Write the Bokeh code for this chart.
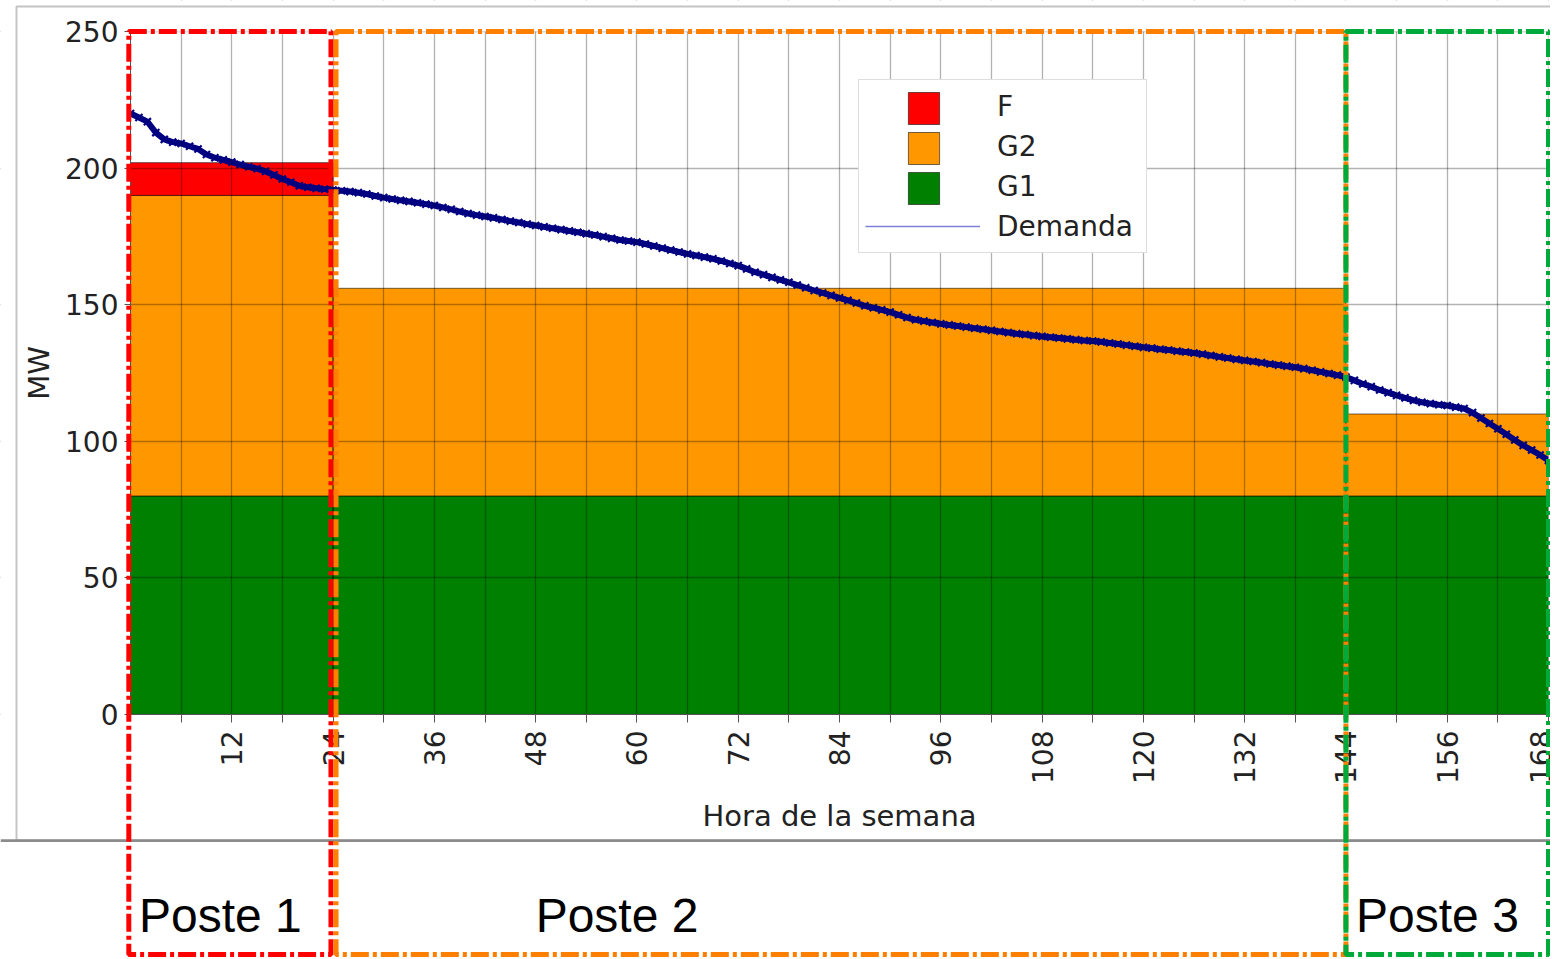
import math
import numpy as np
from bokeh.plotting import figure
from bokeh.models import Range1d, FixedTicker, BoxAnnotation, Label, Legend, LegendItem
from bokeh.embed import file_html
from bokeh.resources import INLINE

# ---------------- data ----------------
hora = list(range(169))
demanda = [
    220.0, 218.5, 217.0, 213.0, 210.5, 209.5, 209.0, 208.0, 207.0, 205.0,
    203.8, 203.0, 202.2, 201.3, 200.5, 199.8, 198.8, 197.5, 196.0, 194.8,
    193.5, 193.0, 192.6, 192.3, 192.0, 191.7, 191.4, 191.0, 190.5, 189.8,
    189.2, 188.7, 188.2, 187.8, 187.3, 186.8, 186.3, 185.6, 184.9, 184.1,
    183.4, 182.8, 182.3, 181.8, 181.2, 180.6, 180.1, 179.5, 179.0, 178.5,
    178.0, 177.5, 177.0, 176.5, 176.0, 175.5, 174.9, 174.3, 173.7, 173.3,
    172.9, 172.2, 171.5, 170.7, 170.0, 169.3, 168.6, 168.0, 167.4, 166.8,
    166.0, 165.1, 164.3, 163.1, 161.9, 161.0, 160.0, 159.1, 158.2, 157.2,
    156.2, 155.2, 154.3, 153.4, 152.5, 151.6, 150.6, 149.6, 148.9, 148.1,
    147.3, 146.3, 145.3, 144.5, 144.0, 143.5, 143.0, 142.6, 142.2, 141.8,
    141.4, 141.0, 140.6, 140.2, 139.8, 139.4, 139.1, 138.7, 138.4, 138.1,
    137.8, 137.5, 137.2, 136.9, 136.7, 136.4, 136.0, 135.6, 135.2, 134.8,
    134.4, 134.1, 133.7, 133.4, 133.0, 132.7, 132.3, 131.9, 131.4, 130.9,
    130.5, 130.0, 129.6, 129.2, 128.8, 128.3, 127.9, 127.5, 127.1, 126.6,
    126.0, 125.4, 124.8, 124.2, 123.5, 122.3, 121.0, 120.0, 118.8, 117.8,
    116.8, 115.9, 115.0, 114.3, 113.8, 113.4, 113.1, 112.5, 112.0, 110.5,
    108.5, 106.5, 104.6, 102.6, 100.5, 98.5, 96.8, 95.0, 93.0,
]
postes = ["Poste 1", "Poste 2", "Poste 3"]
poste_inicio = [0, 24, 144]
poste_fin = [24, 144, 168]
g1 = [80, 80, 80]
g2 = [110, 76, 30]
f = [12, 0, 0]
x_ticks = [12, 24, 36, 48, 60, 72, 84, 96, 108, 120, 132, 144, 156, 168]
x_minor = [6, 18, 30, 42, 54, 66, 78, 90, 102, 114, 126, 138, 150, 162]
y_ticks = [0, 50, 100, 150, 200, 250]

# ---------------- layout / styles ----------------
W, H = 1550, 958
PX_L, PX_R, PX_T, PX_B = 130, 1548, 31, 714      # pixel position of the data area
X0, X1, Y0, Y1 = 0, 168, 0, 250
sx = (PX_R - PX_L) / (X1 - X0)
sy = (PX_B - PX_T) / (Y1 - Y0)
def xpx(px):  # pixel column -> data x
    return X0 + (px - PX_L) / sx
def ypx(py):  # pixel row -> data y
    return Y0 + (PX_B - py) / sy

TXT = "#222222"
FONT = "DejaVu Sans"
C_F, C_G2, C_G1 = "#ff0000", "#ff9800", "#008000"
C_DEM = "#000080"
box_colors = ["#ff0000", "#ff8000", "#00aa3a"]
box_left_shift = [-0.2, 0.35, 0.0]
box_right_shift = [-0.25, 0.0, 0.0]
label_shift = [1.0, 24.0, 1.2]

p = figure(width=W, height=H,
           x_range=Range1d(xpx(0), xpx(W)), y_range=Range1d(ypx(H), ypx(0)),
           output_backend="svg", toolbar_location=None,
           min_border_left=0, min_border_right=0, min_border_top=0, min_border_bottom=0,
           background_fill_color="white", border_fill_color="white")
p.outline_line_color = None

# stacked bars
g1_top = np.array(g1, dtype=float)
g2_top = g1_top + np.array(g2)
f_top = g2_top + np.array(f)
ini = np.array(poste_inicio, dtype=float)
fin = np.array(poste_fin, dtype=float)
bar_line = dict(line_color="black", line_alpha=0.55, line_width=1)
r_g1 = p.quad(left=ini, right=fin, bottom=np.zeros(3), top=g1_top, fill_color=C_G1, **bar_line)
r_g2 = p.quad(left=ini, right=fin, bottom=g1_top, top=g2_top, fill_color=C_G2, **bar_line)
m = np.array(f) > 0
r_f = p.quad(left=ini[m], right=fin[m], bottom=g2_top[m], top=f_top[m], fill_color=C_F, **bar_line)

# demand curve
p.line(hora, demanda, line_color=C_DEM, line_width=6)
p.scatter(hora, demanda, marker="x", size=10, line_color=C_DEM, line_width=2.2)

# axes (drawn at the data origin) & grid
p.xaxis.fixed_location = Y0
p.yaxis.fixed_location = X0
p.xaxis.bounds = (X0, X1)
p.yaxis.bounds = (Y0, Y1)
p.xaxis.ticker = FixedTicker(ticks=x_ticks, minor_ticks=x_minor)
p.yaxis.ticker = FixedTicker(ticks=y_ticks)
p.xaxis.major_label_orientation = math.pi / 2
p.xaxis.axis_label = "Hora de la semana"
p.yaxis.axis_label = "MW"
for ax in (p.xaxis, p.yaxis):
    ax.level = "overlay"
    ax.major_label_text_font = FONT
    ax.major_label_text_font_size = "28px"
    ax.major_label_text_color = TXT
    ax.axis_label_text_font = FONT
    ax.axis_label_text_font_size = "29px"
    ax.axis_label_text_font_style = "normal"
    ax.axis_label_text_color = TXT
    ax.axis_line_color = "#555555"
    ax.major_tick_line_color = "#555555"
    ax.minor_tick_line_color = "#555555"
    ax.major_tick_in = 0
    ax.minor_tick_in = 0
p.xaxis.major_tick_out = 8
p.xaxis.minor_tick_out = 8
p.xaxis.major_label_standoff = 8
p.xaxis.axis_label_standoff = 12
p.yaxis.major_tick_out = 6
p.yaxis.minor_tick_line_color = None
p.yaxis.major_label_standoff = 6
p.yaxis.axis_label_standoff = 6

for g in (p.xgrid, p.ygrid):
    g.grid_line_color = "black"
    g.grid_line_alpha = 0.3
    g.grid_line_width = 1.3
    g.level = "guide"
p.xgrid.minor_grid_line_color = "black"
p.xgrid.minor_grid_line_alpha = 0.3
p.xgrid.minor_grid_line_width = 1.3

# white covers so the grid stays inside the data area
xs, xe, ys, ye = p.x_range.start, p.x_range.end, p.y_range.start, p.y_range.end
cover = dict(fill_color="white", fill_alpha=1, line_color=None)
p.add_layout(BoxAnnotation(left=xs, right=xe, bottom=ys, top=Y0, **cover))
p.add_layout(BoxAnnotation(left=xs, right=xpx(PX_L - 1), bottom=ypx(PX_B + 2), top=ye, **cover))
p.add_layout(BoxAnnotation(left=xs, right=xe, bottom=Y1, top=ye, **cover))
p.add_layout(BoxAnnotation(left=X1, right=xe, bottom=ys, top=ye, **cover))

# outer frame of the original picture
p.add_layout(BoxAnnotation(left=xpx(16), right=xpx(W + 20), top=ypx(6), bottom=ypx(840),
                           fill_alpha=0, fill_color=None, line_color="#c4c4c4",
                           line_alpha=1, line_width=2))
p.add_layout(BoxAnnotation(left=xs, right=xe, top=ypx(838.8), bottom=ypx(841.6),
                           fill_color="#8c8c8c", fill_alpha=1, line_color=None))

# legend: box + labels + demand line
proxy_empty = p.quad(left=[], right=[], bottom=[], top=[], fill_alpha=0, line_alpha=0)
proxy_line = p.line(x=hora[:1], y=demanda[:1], line_color="#7f7fd8", line_width=1.3)
legend1 = Legend(items=[LegendItem(label="F", renderers=[proxy_empty]),
                        LegendItem(label="G2", renderers=[proxy_empty]),
                        LegendItem(label="G1", renderers=[proxy_empty]),
                        LegendItem(label="Demanda", renderers=[proxy_line])],
                 location=(858, H - 253), padding=6, spacing=0, margin=0,
                 glyph_width=115, glyph_height=40, label_height=40, label_width=143,
                 label_standoff=17, label_text_font=FONT, label_text_font_size="28px",
                 label_text_color=TXT, border_line_color="#bdbdbd", border_line_width=1.5,
                 background_fill_color="white", background_fill_alpha=1)
legend2 = Legend(items=[LegendItem(label="F", renderers=[r_f]),
                        LegendItem(label="G2", renderers=[r_g2]),
                        LegendItem(label="G1", renderers=[r_g1])],
                 location=(904, H - 208), padding=0, spacing=0, margin=0,
                 glyph_width=39, glyph_height=40, label_height=40, label_width=1,
                 label_standoff=0, label_text_font_size="1px", label_text_alpha=0,
                 border_line_color=None, background_fill_alpha=0)
p.add_layout(legend1)
p.add_layout(legend2)

# poste labels and dashed boxes
for i in range(3):
    p.add_layout(Label(x=poste_inicio[i] + label_shift[i], y=ypx(915), text=postes[i],
                       text_font="Liberation Sans", text_font_size="48px",
                       text_color="black", text_baseline="middle"))
for i in range(3):
    p.add_layout(BoxAnnotation(left=poste_inicio[i] + box_left_shift[i],
                               right=poste_fin[i] + box_right_shift[i],
                               top=Y1, bottom=ypx(954),
                               fill_alpha=0, fill_color=None, level="overlay",
                               line_color=box_colors[i], line_alpha=1,
                               line_width=5, line_dash="18 4 4 4"))

open("out.html", "w").write(file_html(p, INLINE))
